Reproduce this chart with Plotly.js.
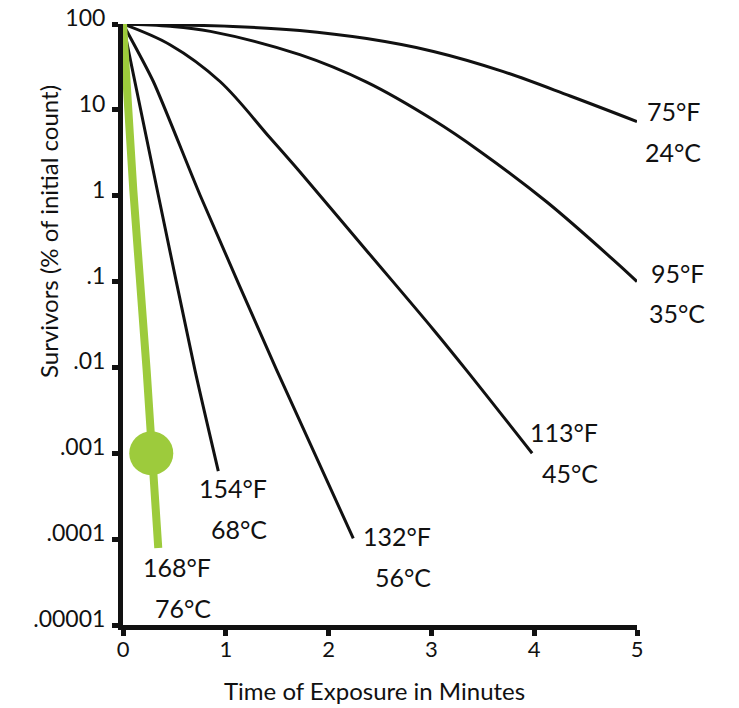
<!DOCTYPE html>
<html>
<head>
<meta charset="utf-8">
<script src="https://cdn.plot.ly/plotly-3.0.1.min.js"></script>
<style>html,body{margin:0;padding:0;background:#fff;}#chart{width:739px;height:708px;}</style>
</head>
<body>
<div id="chart"></div>
<script>
// ---- Data ----
const timeF75 = [0, 1.07, 1.72, 2.37, 3.02, 3.70, 4.35, 5.0];
const survF75 = [100, 93.7, 84.1, 67.6, 47.9, 27.9, 14.5, 7.3];

const timeF95 = [0, 0.46, 0.85, 1.72, 2.37, 3.02, 3.47, 4.12, 4.77, 5.0];
const survF95 = [100, 94, 82, 43.9, 21, 7.6, 3.3, 0.85, 0.179, 0.1];

const timeF113 = [0, 0.457, 0.944, 1.43, 1.72, 2.37, 3.02, 3.34, 3.98];
const survF113 = [100, 57.4, 21.4, 4.73, 1.9, 0.229, 0.0275, 0.0093, 0.001];

const timeF132 = [0, 0.295, 0.749, 1.495, 2.24];
const survF132 = [100, 21.4, 1.02, 0.0093, 0.000102];

const timeF154 = [0, 0.343, 0.70, 0.927];
const survF154 = [100, 1.02, 0.0093, 0.00062];

const timeF168 = [0, 0.1, 0.23, 0.343];
const survF168 = [100, 1.17, 0.0093, 0.000079];

const dotTime = [0.275];
const dotSurv = [0.001];

const yTickVals = [0.00001, 0.0001, 0.001, 0.01, 0.1, 1, 10, 100];
const yTickText = ['.00001', '.0001', '.001', '.01', '.1', '1', '10', '100'];
const xTickVals = [0, 1, 2, 3, 4, 5];
const xTickText = ['0', '1', '2', '3', '4', '5'];

const labelF = ['75°F', '95°F', '113°F', '132°F', '154°F', '168°F'];
const labelC = ['24°C', '35°C', '45°C', '56°C', '68°C', '76°C'];

// ---- Layout / style ----
const FONT = 'Lato, "Open Sans", sans-serif';
const BLACK = '#111111';
const GREEN = '#9dcb3c';
const ML = 123, MR = 102, MT = 24, MB = 83, W = 739, H = 708;
const PW = W - ML - MR, PH = H - MT - MB;
const px2x = p => (p - ML) / PW;
const py2y = p => (H - MB - p) / PH;

// label anchor positions (right edge px, F-line centre px, C-line centre px)
const labelPos = [
  [703, 111, 152],
  [707, 273, 313],
  [600, 432, 473],
  [433, 536, 577],
  [269, 488, 529],
  [213, 567, 608]
];

const blackLine = {color: BLACK, width: 3};
const traces = [
  {x: timeF75, y: survF75, mode: 'lines', line: Object.assign({shape: 'spline', smoothing: 1}, blackLine)},
  {x: timeF95, y: survF95, mode: 'lines', line: Object.assign({shape: 'spline', smoothing: 1}, blackLine)},
  {x: timeF113, y: survF113, mode: 'lines', line: Object.assign({shape: 'spline', smoothing: 1}, blackLine)},
  {x: timeF132, y: survF132, mode: 'lines', line: Object.assign({shape: 'spline', smoothing: 0.6}, blackLine)},
  {x: timeF154, y: survF154, mode: 'lines', line: Object.assign({shape: 'spline', smoothing: 0.6}, blackLine)},
  {x: timeF168, y: survF168, mode: 'lines', line: {color: GREEN, width: 8}},
  {x: dotTime, y: dotSurv, mode: 'markers', marker: {color: GREEN, size: 44, line: {width: 0}}, cliponaxis: false}
];

const annotations = [];
labelF.forEach((t, i) => {
  const [r, yf, yc] = labelPos[i];
  annotations.push({xref: 'paper', yref: 'paper', x: px2x(r), y: py2y(yf), text: t, showarrow: false,
    xanchor: 'right', yanchor: 'middle', align: 'right', font: {family: FONT, size: 25, color: BLACK}});
  annotations.push({xref: 'paper', yref: 'paper', x: px2x(r), y: py2y(yc), text: labelC[i], showarrow: false,
    xanchor: 'right', yanchor: 'middle', align: 'right', font: {family: FONT, size: 25, color: BLACK}});
});
annotations.push({xref: 'paper', yref: 'paper', x: px2x(48), y: py2y(232), text: 'Survivors (% of initial count)',
  textangle: -90, showarrow: false, xanchor: 'center', yanchor: 'middle', font: {family: FONT, size: 24, color: BLACK}});
annotations.push({xref: 'paper', yref: 'paper', x: px2x(374), y: py2y(691), text: 'Time of Exposure in Minutes',
  showarrow: false, xanchor: 'center', yanchor: 'middle', font: {family: FONT, size: 24, color: BLACK}});

const layout = {
  width: W, height: H,
  margin: {l: ML, r: MR, t: MT, b: MB, pad: 0},
  paper_bgcolor: '#fff', plot_bgcolor: '#fff',
  showlegend: false,
  xaxis: {
    range: [0, 5], tickvals: xTickVals, ticktext: xTickText,
    showline: true, linecolor: BLACK, linewidth: 5,
    ticks: 'outside', ticklen: 6, tickwidth: 5, tickcolor: BLACK,
    showgrid: false, zeroline: false, fixedrange: true,
    tickfont: {family: FONT, size: 22, color: BLACK}, ticklabelstandoff: -5
  },
  yaxis: {
    type: 'log', range: [-5, 2], tickvals: yTickVals, ticktext: yTickText,
    showline: true, linecolor: BLACK, linewidth: 5,
    ticks: 'outside', ticklen: 6, tickwidth: 5, tickcolor: BLACK,
    showgrid: false, zeroline: false, fixedrange: true,
    tickfont: {family: FONT, size: 23, color: BLACK}, ticklabelshift: -6, ticklabelstandoff: 2
  },
  xaxis2: {
    overlaying: 'x', anchor: 'y', side: 'bottom', range: [0, 5], tickvals: xTickVals,
    ticks: 'inside', ticklen: 5, tickwidth: 5, tickcolor: BLACK,
    showticklabels: false, showline: false, showgrid: false, zeroline: false, fixedrange: true
  },
  yaxis2: {
    overlaying: 'y', anchor: 'x', side: 'left', type: 'log', range: [-5, 2], tickvals: yTickVals,
    ticks: 'inside', ticklen: 4, tickwidth: 5, tickcolor: BLACK,
    showticklabels: false, showline: false, showgrid: false, zeroline: false, fixedrange: true
  },
  annotations: annotations
};

Plotly.newPlot('chart', traces, layout, {displayModeBar: false, staticPlot: true});
</script>
</body>
</html>
